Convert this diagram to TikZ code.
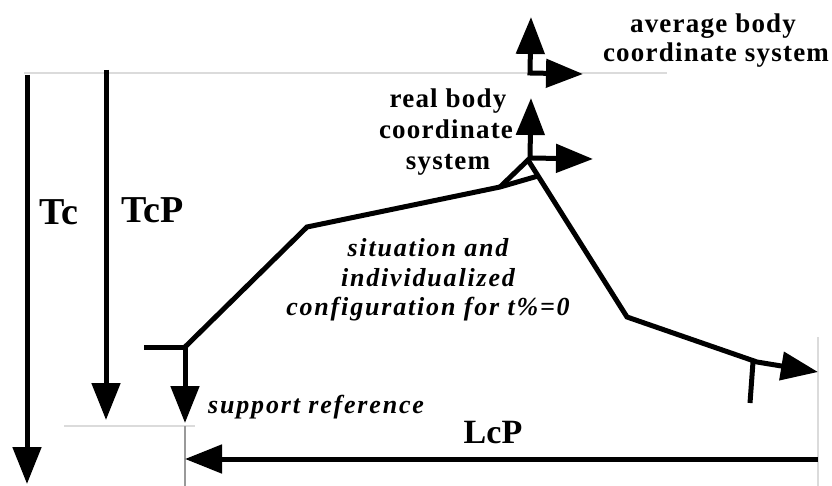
\documentclass[tikz,border=0pt]{standalone}
\usepackage{fontspec}
\setmainfont{Liberation Serif}
\newfontfamily\spacedB{Liberation Serif}[LetterSpace=4.5]
\newfontfamily\spacedI{Liberation Serif}[LetterSpace=7]
\usetikzlibrary{arrows.meta}
\tikzset{
  x=1pt, y=-1pt,
  thickline/.style={line width=5pt, line join=miter, line cap=butt},
  tipA/.tip={Triangle[length=37pt,width=28pt]},
  bigarrow/.style={thickline, -tipA},
  twoarrow/.style={thickline, tipA-tipA},
  guide/.style={line width=1.8pt, draw=black!14},
  guidedark/.style={line width=1.8pt, draw=black!40},
  boldlab/.style={font=\spacedB\bfseries\fontsize{27}{31}\selectfont, inner sep=0pt, anchor=base},
  itlab/.style={font=\spacedI\bfseries\itshape\fontsize{26}{29}\selectfont, inner sep=0pt, anchor=base},
  biglab/.style={font=\bfseries\fontsize{38}{44}\selectfont, inner sep=0pt, anchor=base},
}
\begin{document}
\begin{tikzpicture}
\useasboundingbox (0,0) rectangle (832,486);
% guide lines
\coordinate (gtl) at (24,73);  \coordinate (gtr) at (667,73);
\coordinate (gbl) at (64,426); \coordinate (gbr) at (195,426);
\coordinate (gvt) at (185,426); \coordinate (gvb) at (185,486);
\coordinate (grt) at (818,337); \coordinate (grb) at (818,486);
\draw[guide] (gtl) -- (gtr);
\draw[guide] (gbl) -- (gbr);
\draw[guidedark] (gvt) -- (gvb);
\draw[guide] (grt) -- (grb);
% Tc and TcP
\coordinate (tcs) at (27,75);  \coordinate (tce) at (27,484);
\coordinate (tps) at (106,70); \coordinate (tpe) at (106,420);
\draw[bigarrow] (tcs) -- (tce);
\draw[bigarrow] (tps) -- (tpe);
% support
\coordinate (sup) at (185,347); \coordinate (tick) at (144,347);
\coordinate (supe) at (185,423);
\draw[thickline] (tick) -- (sup);
\draw[bigarrow] (sup) -- (supe);
% body outline
\coordinate (k1) at (307,227); \coordinate (k2) at (500,187);
\coordinate (k3) at (538,176); \coordinate (peak) at (528,160);
\coordinate (k4) at (627,317); \coordinate (k5) at (757,362);
\coordinate (k6) at (818,372);
\coordinate (ft) at (753,362); \coordinate (fb) at (750,403);
\draw[thickline] (sup) -- (k1) -- (k2) -- (k3);
\draw[thickline, -tipA] (k2) -- (peak) -- (k4) -- (k5) -- (k6);
\draw[thickline] (ft) -- (fb);
% real body coordinate system
\coordinate (ru) at (531,98); \coordinate (ro) at (530,158); \coordinate (rr) at (593,159);
\draw[twoarrow] (ru) -- (ro) -- (rr);
% average body coordinate system
\coordinate (au) at (531,17); \coordinate (ao) at (530,73); \coordinate (ar) at (583,74);
\draw[twoarrow] (au) -- (ao) -- (ar);
% LcP
\coordinate (ls) at (818,459); \coordinate (le) at (185,459);
\draw[bigarrow] (ls) -- (le);
% labels
\node[biglab] (tc) at (58.5,225) {Tc};
\node[biglab] (tcp) at (152.5,223) {TcP};
\node[biglab, font=\bfseries\fontsize{34}{40}\selectfont] (lcp) at (493,443) {LcP};
\node[boldlab] (av1) at (713,33) {average body};
\node[boldlab] (av2) at (716,62) {coordinate system};
\node[boldlab] (rb1) at (448,108) {real body};
\node[boldlab] (rb2) at (446,139) {coordinate};
\node[boldlab] (rb3) at (448,170) {system};
\node[itlab] (s1) at (428,257) {situation and};
\node[itlab] (s2) at (428,286) {individualized};
\node[itlab] (s3) at (428,315) {configuration for t\%=0};
\node[itlab, anchor=base west] (sr) at (208,413) {support reference};
\end{tikzpicture}
\end{document}
